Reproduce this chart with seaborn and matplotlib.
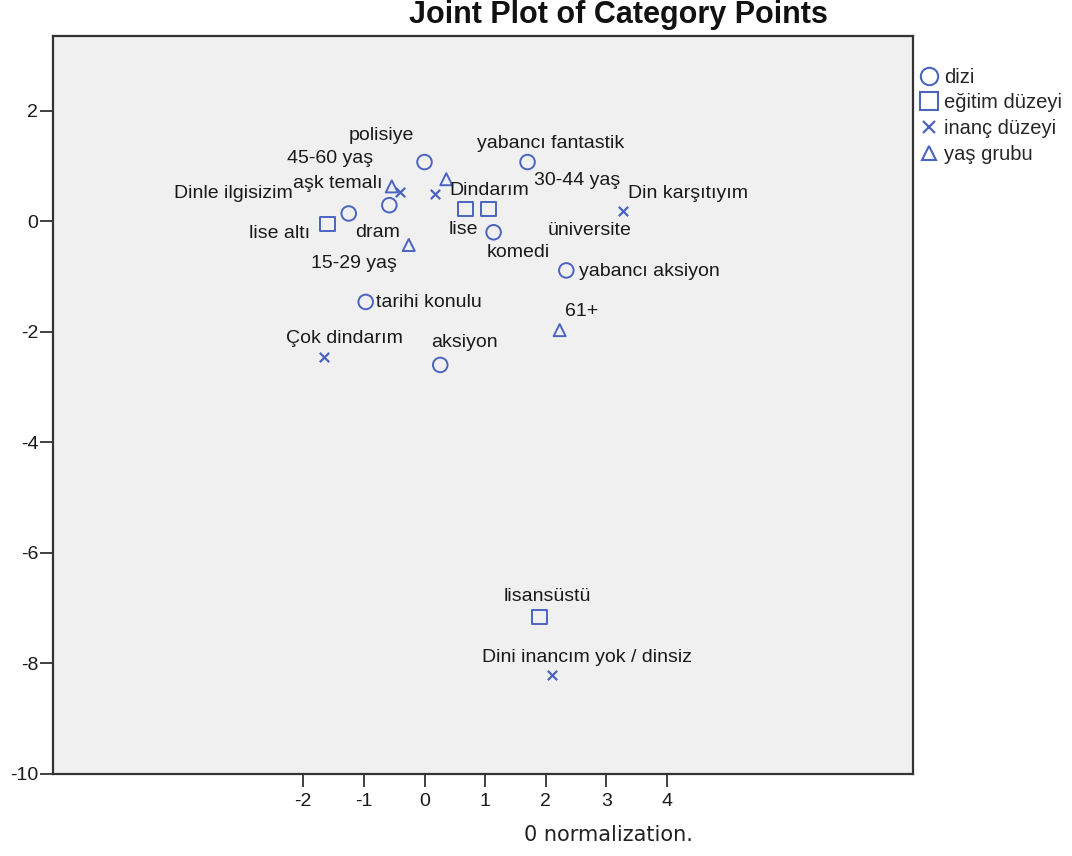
import matplotlib
matplotlib.use("Agg")
import matplotlib.pyplot as plt
from matplotlib.lines import Line2D
import seaborn as sns
import pandas as pd

# Category points per variable (dimension 1, dimension 2)
dizi_labels = ["polisiye", "yabancı fantastik", "aşk temalı", "dram", "komedi",
               "yabancı aksiyon", "tarihi konulu", "aksiyon"]
dizi_x = [0.00, 1.70, -0.58, -1.25, 1.14, 2.34, -0.97, 0.26]
dizi_y = [1.07, 1.07, 0.29, 0.14, -0.20, -0.89, -1.46, -2.60]

egitim_labels = ["lise altı", "lise", "üniversite", "lisansüstü"]
egitim_x = [-1.60, 0.68, 1.06, 1.90]
egitim_y = [-0.05, 0.22, 0.22, -7.16]

inanc_labels = ["Dinle ilgisizim", "Dindarım", "Din karşıtıyım", "Çok dindarım",
                "Dini inancım yok / dinsiz"]
inanc_x = [-0.40, 0.18, 3.27, -1.65, 2.11]
inanc_y = [0.52, 0.49, 0.18, -2.46, -8.21]

yas_labels = ["45-60 yaş", "30-44 yaş", "15-29 yaş", "61+"]
yas_x = [-0.54, 0.36, -0.26, 2.23]
yas_y = [0.63, 0.76, -0.43, -1.97]

group_names = ["dizi", "eğitim düzeyi", "inanç düzeyi", "yaş grubu"]
x_ticks = [-2, -1, 0, 1, 2, 3, 4]
y_ticks = [2, 0, -2, -4, -6, -8, -10]

# Label offsets in pixels (dx, dy) from each point
label_offsets = {
    "polisiye": (-43, 27), "yabancı fantastik": (23, 19), "aşk temalı": (-52, 22),
    "dram": (29, -19), "komedi": (25, -20), "yabancı aksiyon": (83, -1),
    "tarihi konulu": (63, -1), "aksiyon": (24, 22),
    "lise altı": (-48, -10), "lise": (-2, -20), "üniversite": (101, -21),
    "lisansüstü": (8, 21),
    "Dinle ilgisizim": (-167, -1), "Dindarım": (54, 4), "Din karşıtıyım": (65, 18),
    "Çok dindarım": (20, 19), "Dini inancım yok / dinsiz": (35, 18),
    "45-60 yaş": (-62, 28), "30-44 yaş": (131, -1), "15-29 yaş": (-55, -19),
    "61+": (22, 19),
}

frames = []
for g, labs, xs, ys in zip(group_names,
                           [dizi_labels, egitim_labels, inanc_labels, yas_labels],
                           [dizi_x, egitim_x, inanc_x, yas_x],
                           [dizi_y, egitim_y, inanc_y, yas_y]):
    frames.append(pd.DataFrame({"label": labs, "x": xs, "y": ys, "group": g}))
df = pd.concat(frames, ignore_index=True)

sns.set_theme(style="white")
plt.rcParams["font.family"] = ["Liberation Sans", "DejaVu Sans"]

blue = "#4a64c0"
fig = plt.figure(figsize=(10.72, 8.56), dpi=100)
ax = fig.add_axes([0.0494, 0.0958, 0.8023, 0.8621])
ax.set_facecolor("#f0f0f0")

marker_specs = {
    "dizi": dict(marker="o", s=110),
    "eğitim düzeyi": dict(marker="s", s=110),
    "inanç düzeyi": dict(marker="x", s=45),
    "yaş grubu": dict(marker="^", s=75),
}
for g in group_names:
    sub = df[df["group"] == g]
    spec = marker_specs[g]
    if spec["marker"] == "x":
        sns.scatterplot(data=sub, x="x", y="y", ax=ax, marker="x", s=spec["s"],
                        color=blue, linewidth=1.6, legend=False, zorder=3)
    else:
        sns.scatterplot(data=sub, x="x", y="y", ax=ax, marker=spec["marker"],
                        s=spec["s"], facecolors="none", edgecolor=blue,
                        linewidth=1.4, legend=False, zorder=3)

for _, row in df.iterrows():
    dx, dy = label_offsets[row["label"]]
    ax.annotate(row["label"], (row["x"], row["y"]), xytext=(dx, dy),
                textcoords="offset pixels", ha="center", va="center",
                fontsize=14, color="#1a1a1a", zorder=4)

ax.set_xlim(-6.13, 8.06)
ax.set_ylim(-10, 3.35)
ax.set_xticks(x_ticks)
ax.set_yticks(y_ticks)
ax.set_xticklabels([str(t) for t in x_ticks])
ax.set_yticklabels([str(t) for t in y_ticks])
ax.tick_params(axis="both", direction="out", length=9.5, width=1.3, color="#333333",
               labelsize=14, labelcolor="#1a1a1a", left=True, bottom=True, pad=1)
ax.tick_params(axis="x", pad=4)
ax.set_xlabel("")
ax.set_ylabel("")
for sp in ax.spines.values():
    sp.set_visible(True)
    sp.set_color("#333333")
    sp.set_linewidth(1.6)

handles = [
    Line2D([], [], marker="o", linestyle="none", markerfacecolor="none",
           markeredgecolor=blue, markersize=12.5, markeredgewidth=1.5),
    Line2D([], [], marker="s", linestyle="none", markerfacecolor="none",
           markeredgecolor=blue, markersize=12.5, markeredgewidth=1.5),
    Line2D([], [], marker="x", linestyle="none", color=blue,
           markersize=8.5, markeredgewidth=1.6),
    Line2D([], [], marker="^", linestyle="none", markerfacecolor="none",
           markeredgecolor=blue, markersize=10, markeredgewidth=1.5),
]
fig.legend(handles, group_names, loc="upper left", bbox_to_anchor=(0.859, 0.921),
           frameon=False, fontsize=14.5, handlelength=0.8, handletextpad=0.35,
           labelspacing=0.33, borderaxespad=0, borderpad=0)

fig.text(0.5765, 0.9825, "Joint Plot of Category Points", ha="center", va="center",
         fontsize=22, fontweight="bold", color="#111111")
fig.text(0.568, 0.025, "0 normalization.", ha="center", va="center",
         fontsize=15, color="#222222", family="DejaVu Sans")

fig.savefig("out.png", dpi=100, facecolor="white")
